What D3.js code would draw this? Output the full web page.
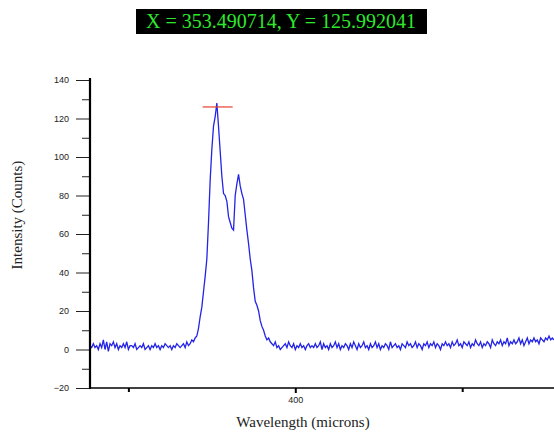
<!DOCTYPE html>
<html>
<head>
<meta charset="utf-8">
<script src="https://d3js.org/d3.v7.min.js"></script>
<style>
  body { margin: 0; background: #fff; }
  .tick text { font-family: "Liberation Sans", Arial, sans-serif; font-size: 9px; fill: #222; }
  .title { font-family: "Liberation Serif", "Times New Roman", serif; font-size: 15px; fill: #222; }
</style>
</head>
<body>
<script>
  // sampled spectrum: one value per micron, starting at wlStart
  var wlStart = 277, wlStep = 1;
  var intensity = [
    // 277 - 340 baseline
    2, 1, 3, 1, 2, 0, 3, 1, 5, 0,
    4, -1, 3, 2, 4, 1, 3, 0, 2, 1,
    3, 1, 4, 0, 2, 2, 1, 3, 0, 1,
    2, 1, 3, 0, 1, 2, 0, 2, 1, 3,
    1, 2, 0, 2, 1, 3, 2, 1, 2, 0,
    2, 1, 3, 2, 1, 2, 3, 1, 4, 2,
    3, 5, 4, 6,
    // 341 - 385 peaks
    7, 11, 17, 22, 30, 38, 47, 66, 88, 104,
    116, 121, 128, 116, 103, 90, 81, 80, 77, 69,
    66, 63, 62, 80, 86, 91, 85, 81, 78, 70,
    62, 55, 47, 41, 32, 25, 23, 20, 15, 12,
    10, 7, 5, 6, 4,
    // 386 - 555 baseline
    3, 2, 4, 1, 2, 0, 1,
    2, 3, 1, 4, 2, 1, 3, 0, 2, 1,
    3, 1, 2, 0, 2, 3, 1, 2, 1, 3,
    1, 2, 4, 0, 3, 1, 2, 0, 3, 1,
    2, 4, 1, 3, 0, 2, 1, 3, 2, 0,
    3, 1, 4, 2, 0, 3, 1, 2, 4, 1,
    2, 0, 3, 1, 2, 4, 1, 3, 0, 2,
    1, 3, 2, 0, 4, 1, 2, 3, 1, 2,
    0, 3, 2, 1, 4, 2, 3, 1, 2, 4,
    1, 3, 2, 0, 3, 2, 4, 1, 3, 2,
    4, 1, 3, 2, 0, 3, 2, 4, 2, 3,
    1, 4, 2, 3, 5, 2, 3, 1, 4, 3,
    2, 4, 1, 3, 2, 5, 3, 2, 4, 1,
    3, 2, 4, 3, 1, 5, 3, 2, 4, 3,
    5, 2, 4, 3, 6, 2, 4, 3, 5, 3,
    4, 6, 3, 5, 2, 4, 6, 3, 5, 4,
    6, 4, 5, 3, 6, 5, 4, 6, 5, 7, 5, 6, 5
  ];
  var yTicks = [-20, 0, 20, 40, 60, 80, 100, 120, 140];
  var xMajorTicks = [400];
  var xMinorTicks = [300, 500];
  var cursor = {x: 353.490714, y: 125.992041};

  var data = intensity.map((v, i) => ({w: wlStart + i * wlStep, v: v}));

  var width = 554, height = 432;
  var svg = d3.select("body").append("svg")
    .attr("width", width)
    .attr("height", height);

  var x = d3.scaleLinear().domain([277, 555]).range([90, 554]);
  var y = d3.scaleLinear().domain([-20, 140]).range([388, 80]);

  // readout box
  svg.append("rect")
    .attr("x", 136).attr("y", 9).attr("width", 291).attr("height", 25)
    .attr("fill", "#000");
  svg.append("text")
    .attr("x", 281).attr("y", 28)
    .attr("text-anchor", "middle")
    .style("font-family", "Liberation Serif, Times New Roman, serif")
    .style("font-size", "20px")
    .attr("fill", "#2ee82e")
    .text("X = " + cursor.x.toFixed(6) + ", Y = " + cursor.y.toFixed(6));

  // spectrum
  svg.append("path")
    .datum(data)
    .attr("fill", "none")
    .attr("stroke", "#2424e6")
    .attr("stroke-width", 1.3)
    .attr("d", d3.line().x(d => x(d.w)).y(d => y(d.v)));

  // cursor marker
  svg.append("line")
    .attr("x1", x(cursor.x) - 15).attr("x2", x(cursor.x) + 15)
    .attr("y1", y(cursor.y)).attr("y2", y(cursor.y))
    .attr("stroke", "#e8402c").attr("stroke-width", 1.2);

  // y axis
  var yAxis = svg.append("g")
    .attr("transform", "translate(90,0)")
    .call(d3.axisLeft(y).tickValues(yTicks).tickSize(14).tickPadding(7));
  yAxis.select(".domain").remove();
  yAxis.selectAll(".tick line").attr("stroke", "#222");
  svg.append("g")
    .attr("transform", "translate(90,0)")
    .call(d3.axisLeft(y).tickValues(d3.range(-10, 140, 20)).tickSize(8).tickFormat(""))
    .call(g => g.select(".domain").remove())
    .selectAll(".tick line").attr("stroke", "#222");
  svg.append("line")
    .attr("x1", 90).attr("x2", 90).attr("y1", 78).attr("y2", 389)
    .attr("stroke", "#000").attr("stroke-width", 2.2);

  // x axis
  var xAxis = svg.append("g")
    .attr("transform", "translate(0,388)")
    .call(d3.axisBottom(x).tickValues(xMajorTicks).tickSize(5).tickPadding(4));
  xAxis.select(".domain").remove();
  xAxis.selectAll(".tick line").attr("stroke", "#000").attr("stroke-width", 2);
  svg.append("g")
    .attr("transform", "translate(0,388)")
    .call(d3.axisBottom(x).tickValues(xMinorTicks).tickSize(4).tickFormat(""))
    .call(g => g.select(".domain").remove())
    .selectAll(".tick line").attr("stroke", "#000").attr("stroke-width", 2);
  svg.append("line")
    .attr("x1", 89).attr("x2", 554).attr("y1", 388).attr("y2", 388)
    .attr("stroke", "#000").attr("stroke-width", 1.5);

  // axis titles
  svg.append("text").attr("class", "title")
    .attr("x", 303).attr("y", 427)
    .attr("text-anchor", "middle")
    .text("Wavelength (microns)");
  svg.append("text").attr("class", "title")
    .attr("transform", "translate(22,215) rotate(-90)")
    .attr("text-anchor", "middle")
    .text("Intensity (Counts)");
</script>
</body>
</html>
